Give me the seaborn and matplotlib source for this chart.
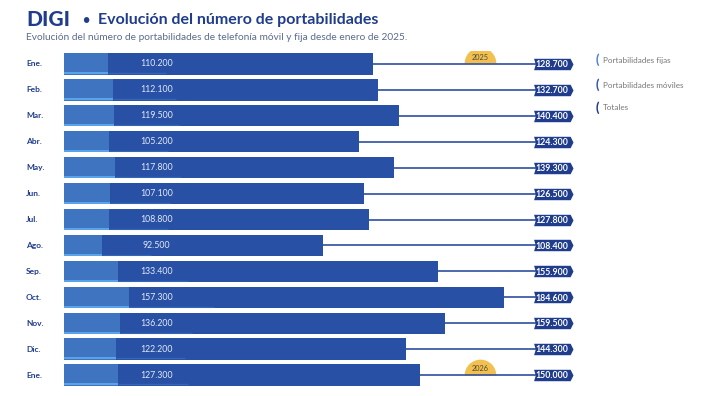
import matplotlib.pyplot as plt
import matplotlib.path as mpath
import numpy as np
import pandas as pd
import seaborn as sns

months = ["Ene.", "Feb.", "Mar.", "Abr.", "May.", "Jun.", "Jul.",
          "Ago.", "Sep.", "Oct.", "Nov.", "Dic.", "Ene."]
moviles = [110.2, 112.1, 119.5, 105.2, 117.8, 107.1, 108.8,
           92.5, 133.4, 157.3, 136.2, 122.2, 127.3]
totales = [128.7, 132.7, 140.4, 124.3, 139.3, 126.5, 127.8,
           108.4, 155.9, 184.6, 159.5, 144.3, 150.0]
years = {0: "2025", 12: "2026"}

df = pd.DataFrame({"mes": months, "moviles": moviles, "totales": totales})
df["fijas"] = df["totales"] - df["moviles"]
df["row"] = np.arange(len(df))
# light part shows the share of fixed portabilities inside the bar
df["fijas_w"] = df["moviles"] * df["fijas"] / df["totales"]


def fmt(v):
    return f"{v:.3f}"


NAVY = "#1f3d8c"
DARK = "#2850a4"
LIGHT = "#3e74c0"
STRIPE = "#5aaaf0"

sns.set_theme(style="white")
plt.rcParams["font.family"] = ["Lato", "DejaVu Sans"]

fig = plt.figure(figsize=(7.04, 3.96), dpi=100)
fig.patch.set_facecolor("white")
ax = fig.add_axes([64 / 704, 1 - 388 / 396, 536 / 704, 337 / 396])

sns.barplot(data=df, x="moviles", y="row", orient="h", color=DARK,
            width=0.82, saturation=1, linewidth=0, ax=ax)
sns.barplot(data=df, x="fijas_w", y="row", orient="h", color=LIGHT,
            width=0.82, saturation=1, linewidth=0, ax=ax)

ax.set_xlim(0, 536 / 2.8)
ax.set_ylim(12.5, -0.5)
ax.axis("off")

# tag shape for the totals: flat notch on the left, point on the right
tag = mpath.Path([(-1.7, -0.5), (1.5, -0.5), (1.75, 0), (1.5, 0.5),
                  (-1.7, 0.5), (-1.55, 0), (-1.7, -0.5)], closed=True)
half = mpath.Path.wedge(0, 180)

tag_x = 174.5
for i, r in df.iterrows():
    ax.hlines(i + 0.36, 0, r["fijas_w"], color=STRIPE, lw=1.3, zorder=4)
    ax.hlines(i + 0.36, r["fijas_w"], r["fijas_w"] * 2.3, color=STRIPE,
              lw=1.0, alpha=0.25, zorder=4)
    ax.text(33, i, fmt(r["moviles"]), ha="center", va="center",
            color="#e3eaf8", fontsize=6.3, zorder=5)
    ax.plot([r["moviles"], tag_x - 5], [i, i], color="#2d4f9e", lw=1.2,
            zorder=2)
    ax.scatter([tag_x], [i], marker=tag, s=830, color=NAVY, linewidths=0,
               zorder=5)
    ax.text(tag_x - 0.3, i + 0.03, fmt(r["totales"]), ha="center",
            va="center", color="white", fontsize=6.3, fontweight="bold",
            zorder=6)
    fig.text(26 / 704, ax.transData.transform((0, i))[1] / 396,
             r["mes"], ha="left", va="center", color=NAVY, fontsize=6,
             fontweight="bold")

for i, y in years.items():
    ax.scatter([148.6], [i - 0.02], marker=half, s=520, color="#f3c04f",
               zorder=1, linewidths=0)
    ax.text(148.6, i - 0.24, y, ha="center", va="center", fontsize=5.3,
            color="#4a4a3a", zorder=3)

fig.text(26 / 704, 1 - 20 / 396, "DIGI", ha="left", va="center",
         color=NAVY, fontsize=15, fontweight="black")
fig.text(86 / 704, 1 - 20 / 396, "•", ha="center", va="center",
         color=NAVY, fontsize=9, fontweight="bold")
fig.text(98 / 704, 1 - 20 / 396, "Evolución del número de portabilidades",
         ha="left", va="center", color=NAVY, fontsize=11.5, fontweight="bold")
fig.text(26 / 704, 1 - 38 / 396,
         "Evolución del número de portabilidades de telefonía móvil y fija desde enero de 2025.",
         ha="left", va="center", color="#5b6b8c", fontsize=7.3)

legend_items = [("Portabilidades fijas", "#4f86cf", 60),
                ("Portabilidades móviles", "#2f5bb0", 85),
                ("Totales", NAVY, 108)]
for label, c, ypx in legend_items:
    fig.text(597 / 704, 1 - ypx / 396, "(", ha="center", va="center",
             color=c, fontsize=9, fontweight="black")
    fig.text(603 / 704, 1 - ypx / 396, label, ha="left", va="center",
             color="#777777", fontsize=5.9)

fig.savefig("out.png", dpi=100, facecolor="white")
